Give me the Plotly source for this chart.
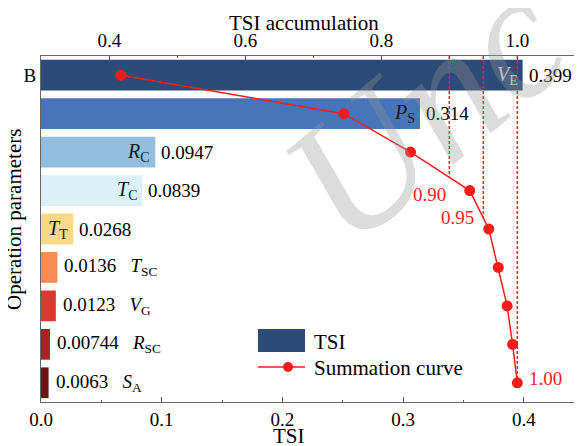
import numpy as np
import plotly.graph_objects as go

# ---- data ----
param_symbols = ["V", "P", "R", "T", "T", "T", "V", "R", "S"]
param_subs = ["E", "S", "C", "C", "T", "SC", "G", "SC", "A"]
tsi = [0.399, 0.314, 0.0947, 0.0839, 0.0268, 0.0136, 0.0123, 0.00744, 0.0063]
tsi_labels = ["0.399", "0.314", "0.0947", "0.0839", "0.0268", "0.0136", "0.0123", "0.00744", "0.0063"]
accumulation = [0.417, 0.745, 0.843, 0.930, 0.958, 0.972, 0.985, 0.993, 1.000]
thresholds = [0.90, 0.95, 1.00]
threshold_labels = ["0.90", "0.95", "1.00"]
bottom_ticks = [0.0, 0.1, 0.2, 0.3, 0.4]
top_ticks = [0.4, 0.6, 0.8, 1.0]
bar_colors = ["#2d4b77", "#4775b8", "#93bedf", "#dcf0f8", "#fbd98b",
              "#f98b55", "#d93a2d", "#a52426", "#6a1616"]

FONT = "Liberation Serif, Times New Roman, serif"
RED = "#ff1a1a"
idx = list(range(len(tsi)))
name_inside = [v > 0.02 for v in tsi]

fig = go.Figure()
fig.add_trace(go.Bar(x=tsi, y=idx, orientation="h", width=0.8,
                     marker=dict(color=bar_colors, line=dict(width=0)),
                     showlegend=False, hoverinfo="skip"))

for t in thresholds:
    yc = float(np.interp(t, accumulation, idx))
    fig.add_trace(go.Scatter(x=[t, t], y=[-0.5, yc], xaxis="x2", yaxis="y",
                             mode="lines", showlegend=False, hoverinfo="skip",
                             line=dict(color=RED, width=1.5, dash="3px,2px")))

fig.add_trace(go.Scatter(x=accumulation, y=idx, xaxis="x2", yaxis="y",
                         mode="lines+markers", showlegend=False,
                         line=dict(color=RED, width=1.5),
                         marker=dict(color=RED, size=11)))

ann = []
for i, (v, lab, s, sub, inside) in enumerate(zip(tsi, tsi_labels, param_symbols, param_subs, name_inside)):
    name = f"<i>{s}</i><sub>{sub}</sub>"
    if inside:
        ann.append(dict(x=v, y=i, xref="x", yref="y", text=lab, xanchor="left",
                        xshift=4, showarrow=False, font=dict(family=FONT, size=19, color="black")))
        ann.append(dict(x=v, y=i, xref="x", yref="y", text=name, xanchor="right",
                        xshift=-3, showarrow=False,
                        font=dict(family=FONT, size=20, color="#d2d9e4" if i == 0 else "#1a1a1a")))
    else:
        ann.append(dict(x=v, y=i, xref="x", yref="y",
                        text=lab + "&nbsp;&nbsp;&nbsp;" + name, xanchor="left",
                        xshift=5, showarrow=False, font=dict(family=FONT, size=19, color="black")))

# threshold labels
thr_pos = [(3.09, "right", -1), (3.71, "right", -7), (7.90, "left", 10)]
for t, lab, (yy, xa, xs) in zip(thresholds, threshold_labels, thr_pos):
    ann.append(dict(x=t, y=yy, xref="x2", yref="y", text=lab, xanchor=xa, xshift=xs,
                    showarrow=False, font=dict(family=FONT, size=19, color=RED)))

# axis titles
ann.append(dict(x=0.487, y=1.096, xref="paper", yref="paper", text="TSI accumulation",
                xanchor="center", yanchor="middle",
                showarrow=False, font=dict(family=FONT, size=21, color="black")))
ann.append(dict(x=0.4575, y=-0.097, xref="paper", yref="paper", text="TSI",
                xanchor="center", yanchor="middle",
                showarrow=False, font=dict(family=FONT, size=21, color="black")))
ann.append(dict(x=-0.05, y=0.529, xref="paper", yref="paper", text="Operation parameters",
                xanchor="center", yanchor="middle",
                textangle=-90, showarrow=False, font=dict(family=FONT, size=21, color="black")))

# manual legend
ann.append(dict(x=0.50, y=0.174, xref="paper", yref="paper", text="TSI", xanchor="left",
                yanchor="middle", showarrow=False, font=dict(family=FONT, size=21, color="black")))
ann.append(dict(x=0.50, y=0.098, xref="paper", yref="paper", text="Summation curve", xanchor="left",
                yanchor="middle", showarrow=False, font=dict(family=FONT, size=21, color="black")))

# watermark
ann.append(dict(x=0.71, y=0.844, xref="paper", yref="paper", text="<i>Unc</i>", textangle=-40,
                xanchor="center", yanchor="middle",
                showarrow=False, font=dict(family=FONT, size=180, color="rgba(150,150,150,0.33)")))

shapes = [
    dict(type="rect", xref="paper", yref="paper", x0=0.401, x1=0.488, y0=0.1445, y1=0.211,
         fillcolor=bar_colors[0], line=dict(width=0)),
    dict(type="line", xref="paper", yref="paper", x0=0.401, x1=0.488, y0=0.1012, y1=0.1012,
         line=dict(color=RED, width=1.5)),
    dict(type="circle", xref="paper", yref="paper", x0=0.4474, x1=0.4659, y0=0.0867, y1=0.1157,
         fillcolor=RED, line=dict(width=0)),
]

axis_common = dict(showgrid=False, zeroline=False, showline=True, linecolor="#666666", linewidth=1,
                   ticks="inside", ticklen=5, tickcolor="#555555", automargin=False,
                   tickfont=dict(family=FONT, size=19, color="black"))

# the page body adds an 8px offset, so the figure is 8px smaller than the window
fig.update_layout(
    width=574, height=438,
    margin=dict(l=33, r=0, t=48, b=44, autoexpand=False),
    paper_bgcolor="white", plot_bgcolor="white",
    bargap=0.2,
    xaxis=dict(range=[0, 0.4482], tickvals=bottom_ticks, tickformat=".1f",
               minor=dict(ticks="inside", ticklen=2, dtick=0.05, tickcolor="#555555"),
               anchor="y", **axis_common),
    xaxis2=dict(range=[0.29956, 1.0951], tickvals=top_ticks, tickformat=".1f",
                minor=dict(ticks="inside", ticklen=2, dtick=0.1, tickcolor="#555555"),
                overlaying="x", side="top", anchor="y", **axis_common),
    yaxis=dict(range=[8.5, -0.5], tickvals=[0], ticktext=["B"], ticks="", automargin=False,
               showgrid=False, zeroline=False, showline=True, linecolor="#666666", linewidth=1,
               tickfont=dict(family=FONT, size=19, color="black")),
    annotations=ann, shapes=shapes, showlegend=False,
)

fig.write_html("out.html")
